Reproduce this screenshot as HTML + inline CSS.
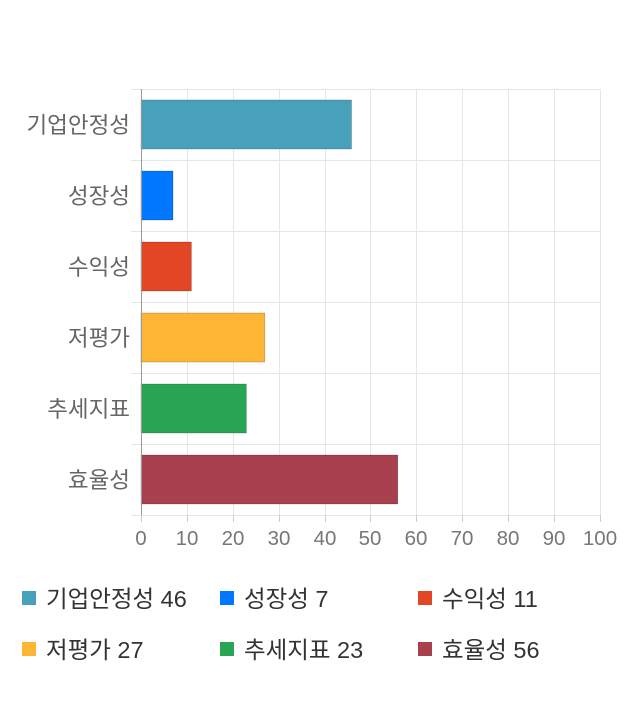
<!DOCTYPE html>
<html><head><meta charset="utf-8"><style>
body{margin:0;background:#fff;}
text{font-family:"Liberation Sans","Noto Sans CJK KR",sans-serif;}
</style></head><body>
<svg width="640" height="700" xmlns="http://www.w3.org/2000/svg">
<g stroke="#e6e6e6" stroke-width="1">
<line x1="187.5" y1="89" x2="187.5" y2="515"/><line x1="233.5" y1="89" x2="233.5" y2="515"/>
<line x1="279.5" y1="89" x2="279.5" y2="515"/><line x1="325.5" y1="89" x2="325.5" y2="515"/>
<line x1="370.5" y1="89" x2="370.5" y2="515"/><line x1="416.5" y1="89" x2="416.5" y2="515"/>
<line x1="462.5" y1="89" x2="462.5" y2="515"/><line x1="508.5" y1="89" x2="508.5" y2="515"/>
<line x1="554.5" y1="89" x2="554.5" y2="515"/><line x1="600.5" y1="89" x2="600.5" y2="515"/>
<line x1="131" y1="89.5" x2="601" y2="89.5"/><line x1="131" y1="160.5" x2="601" y2="160.5"/>
<line x1="131" y1="231.5" x2="601" y2="231.5"/><line x1="131" y1="302.5" x2="601" y2="302.5"/>
<line x1="131" y1="373.5" x2="601" y2="373.5"/><line x1="131" y1="444.5" x2="601" y2="444.5"/>
<line x1="131" y1="515.5" x2="601" y2="515.5"/>
</g>
<g stroke="#ccc" stroke-width="1">
<line x1="141.5" y1="515" x2="141.5" y2="522"/><line x1="187.5" y1="515" x2="187.5" y2="522"/>
<line x1="233.5" y1="515" x2="233.5" y2="522"/><line x1="279.5" y1="515" x2="279.5" y2="522"/>
<line x1="325.5" y1="515" x2="325.5" y2="522"/><line x1="370.5" y1="515" x2="370.5" y2="522"/>
<line x1="416.5" y1="515" x2="416.5" y2="522"/><line x1="462.5" y1="515" x2="462.5" y2="522"/>
<line x1="508.5" y1="515" x2="508.5" y2="522"/><line x1="554.5" y1="515" x2="554.5" y2="522"/>
<line x1="600.5" y1="515" x2="600.5" y2="522"/>
</g>
<g stroke-opacity="0.3" stroke="#000" stroke-width="0.6">
<rect x="141" y="100" width="210.5" height="49" fill="#48a1bb"/>
<rect x="141" y="171" width="32" height="49" fill="#0077ff"/>
<rect x="141" y="242" width="50.4" height="49" fill="#e34624"/>
<rect x="141" y="313" width="123.8" height="49" fill="#feb533"/>
<rect x="141" y="384" width="105.4" height="49" fill="#28a654"/>
<rect x="141" y="455" width="256.8" height="49" fill="#a8404e"/>
</g>
<line x1="141.5" y1="89" x2="141.5" y2="515" stroke="#999"/>
<g font-size="22.5" fill="#666" text-anchor="end">
<text x="130" y="133">기업안정성</text><text x="130" y="204">성장성</text>
<text x="130" y="275">수익성</text><text x="130" y="346">저평가</text>
<text x="130" y="417">추세지표</text><text x="130" y="488">효율성</text>
</g>
<g font-size="20.5" fill="#777" text-anchor="middle">
<text x="141" y="545">0</text><text x="187" y="545">10</text><text x="233" y="545">20</text>
<text x="279" y="545">30</text><text x="325" y="545">40</text><text x="370" y="545">50</text>
<text x="416" y="545">60</text><text x="462" y="545">70</text><text x="508" y="545">80</text>
<text x="554" y="545">90</text><text x="600" y="545">100</text>
</g>
<rect x="22" y="591" width="14" height="14" fill="#48a1bb"/>
<rect x="220" y="591" width="14" height="14" fill="#0077ff"/>
<rect x="418" y="591" width="14" height="14" fill="#e34624"/>
<rect x="22" y="642" width="14" height="14" fill="#feb533"/>
<rect x="220" y="642" width="14" height="14" fill="#28a654"/>
<rect x="418" y="642" width="14" height="14" fill="#a8404e"/>
<g font-size="23.5" fill="#333">
<text x="46" y="607">기업안정성 46</text><text x="244" y="607">성장성 7</text><text x="442" y="607">수익성 11</text>
<text x="46" y="658">저평가 27</text><text x="244" y="658">추세지표 23</text><text x="442" y="658">효율성 56</text>
</g>
</svg>
</body></html>
